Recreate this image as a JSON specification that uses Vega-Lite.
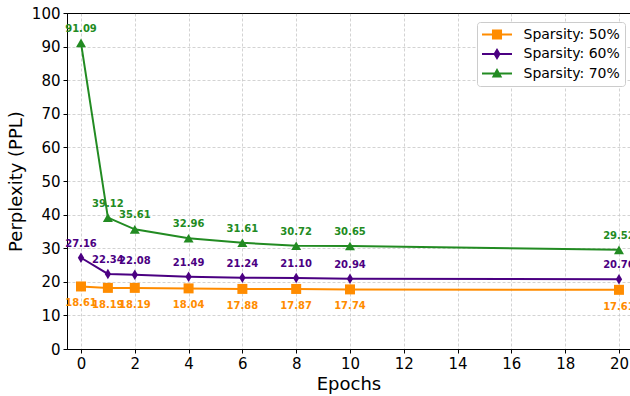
{
  "$schema": "https://vega.github.io/schema/vega-lite/v6.json",
  "width": 563,
  "height": 336,
  "autosize": {"type": "none"},
  "padding": {"left": 67, "top": 13, "right": 0, "bottom": 47},
  "config": {
    "font": "DejaVu Sans",
    "view": {"stroke": "#000000", "strokeWidth": 1},
    "axis": {
      "domainColor": "#000000",
      "tickColor": "#000000",
      "labelColor": "#000000",
      "titleColor": "#000000",
      "labelFont": "DejaVu Sans",
      "titleFont": "DejaVu Sans",
      "labelFontSize": 15,
      "titleFontSize": 18,
      "titleFontWeight": "normal",
      "tickSize": 4,
      "labelPadding": 3,
      "gridWidth": 0.8
    },
    "text": {"fontSize": 10, "fontWeight": "bold", "font": "DejaVu Sans"}
  },
  "data": {
    "values": [
      {"epoch": 0, "ppl": 18.61, "series": "Sparsity: 50%"},
      {"epoch": 1, "ppl": 18.19, "series": "Sparsity: 50%"},
      {"epoch": 2, "ppl": 18.19, "series": "Sparsity: 50%"},
      {"epoch": 4, "ppl": 18.04, "series": "Sparsity: 50%"},
      {"epoch": 6, "ppl": 17.88, "series": "Sparsity: 50%"},
      {"epoch": 8, "ppl": 17.87, "series": "Sparsity: 50%"},
      {"epoch": 10, "ppl": 17.74, "series": "Sparsity: 50%"},
      {"epoch": 20, "ppl": 17.61, "series": "Sparsity: 50%"},
      {"epoch": 0, "ppl": 27.16, "series": "Sparsity: 60%"},
      {"epoch": 1, "ppl": 22.34, "series": "Sparsity: 60%"},
      {"epoch": 2, "ppl": 22.08, "series": "Sparsity: 60%"},
      {"epoch": 4, "ppl": 21.49, "series": "Sparsity: 60%"},
      {"epoch": 6, "ppl": 21.24, "series": "Sparsity: 60%"},
      {"epoch": 8, "ppl": 21.10, "series": "Sparsity: 60%"},
      {"epoch": 10, "ppl": 20.94, "series": "Sparsity: 60%"},
      {"epoch": 20, "ppl": 20.76, "series": "Sparsity: 60%"},
      {"epoch": 0, "ppl": 91.09, "series": "Sparsity: 70%"},
      {"epoch": 1, "ppl": 39.12, "series": "Sparsity: 70%"},
      {"epoch": 2, "ppl": 35.61, "series": "Sparsity: 70%"},
      {"epoch": 4, "ppl": 32.96, "series": "Sparsity: 70%"},
      {"epoch": 6, "ppl": 31.61, "series": "Sparsity: 70%"},
      {"epoch": 8, "ppl": 30.72, "series": "Sparsity: 70%"},
      {"epoch": 10, "ppl": 30.65, "series": "Sparsity: 70%"},
      {"epoch": 20, "ppl": 29.52, "series": "Sparsity: 70%"}
    ]
  },
  "encoding": {
    "x": {
      "field": "epoch",
      "type": "quantitative",
      "scale": {"domain": [-0.52, 20.41], "nice": false, "zero": false},
      "axis": {
        "title": "Epochs",
        "values": [0, 2, 4, 6, 8, 10, 12, 14, 16, 18, 20],
        "titlePadding": 4,
        "labelFlush": false,
        "gridColor": "#c8c8c8",
        "gridDash": [3, 2]
      }
    },
    "y": {
      "field": "ppl",
      "type": "quantitative",
      "scale": {"domain": [0, 100], "nice": false},
      "axis": {
        "title": "Perplexity (PPL)",
        "values": [0, 10, 20, 30, 40, 50, 60, 70, 80, 90, 100],
        "titlePadding": 6,
        "labelFlush": false,
        "gridColor": {"condition": {"test": "datum.value === 100", "value": "#000000"}, "value": "#c8c8c8"},
        "gridDash": {"condition": {"test": "datum.value === 100", "value": []}, "value": [3, 2]}
      }
    }
  },
  "layer": [
    {
      "transform": [{"filter": "datum.series === 'Sparsity: 50%'"}],
      "layer": [
        {"mark": {"type": "line", "color": "#ff8c00", "strokeWidth": 2}, "encoding": {}},
        {"mark": {"type": "point", "shape": "square", "filled": true, "color": "#ff8c00", "size": 100, "opacity": 1}},
        {"mark": {"type": "text", "color": "#ff8c00", "dy": 17}, "encoding": {"text": {"field": "ppl", "type": "quantitative", "format": ".2f"}}}
      ]
    },
    {
      "transform": [{"filter": "datum.series === 'Sparsity: 60%'"}],
      "layer": [
        {"mark": {"type": "line", "color": "#4b0082", "strokeWidth": 2}, "encoding": {}},
        {"mark": {"type": "point", "shape": "M0,-1L0.6,0L0,1L-0.6,0Z", "filled": true, "color": "#4b0082", "size": 110, "opacity": 1}},
        {"mark": {"type": "text", "color": "#4b0082", "dy": -14}, "encoding": {"text": {"field": "ppl", "type": "quantitative", "format": ".2f"}}}
      ]
    },
    {
      "transform": [{"filter": "datum.series === 'Sparsity: 70%'"}],
      "layer": [
        {"mark": {"type": "line", "color": "#228b22", "strokeWidth": 2}, "encoding": {}},
        {"mark": {"type": "point", "shape": "triangle-up", "filled": true, "color": "#228b22", "size": 100, "opacity": 1}},
        {"mark": {"type": "text", "color": "#228b22", "dy": -14}, "encoding": {"text": {"field": "ppl", "type": "quantitative", "format": ".2f"}}}
      ]
    },
    {
      "mark": {"type": "point", "filled": true, "opacity": 0},
      "encoding": {
        "fill": {
          "field": "series",
          "type": "nominal",
          "scale": {"domain": ["Sparsity: 50%", "Sparsity: 60%", "Sparsity: 70%"], "range": ["#ff8c00", "#4b0082", "#228b22"]},
          "legend": {
            "title": null,
            "orient": "none",
            "legendX": 410,
            "legendY": 9,
            "padding": 5,
            "fillColor": "#ffffff",
            "strokeColor": "#cccccc",
            "cornerRadius": 3,
            "labelFontSize": 14,
            "labelFont": "DejaVu Sans",
            "labelColor": "#000000",
            "labelOffset": 19,
            "symbolOffset": 7.5,
            "symbolSize": 225,
            "symbolStrokeWidth": 0,
            "rowPadding": 4.5,
            "encode": {"symbols": {"update": {"opacity": {"value": 1}, "fillOpacity": {"value": 1}}}}
          }
        },
        "shape": {
          "field": "series",
          "type": "nominal",
          "scale": {"domain": ["Sparsity: 50%", "Sparsity: 60%", "Sparsity: 70%"], "range": [
            "M-2,-0.14H2V0.14H-2Z M-0.67,-0.67H0.67V0.67H-0.67Z",
            "M-2,-0.14H2V0.14H-2Z M0,-0.8L0.48,0L0,0.8L-0.48,0Z",
            "M-2,-0.14H2V0.14H-2Z M0,-0.74L0.7,0.54H-0.7Z"
          ]}
        }
      }
    }
  ]
}
